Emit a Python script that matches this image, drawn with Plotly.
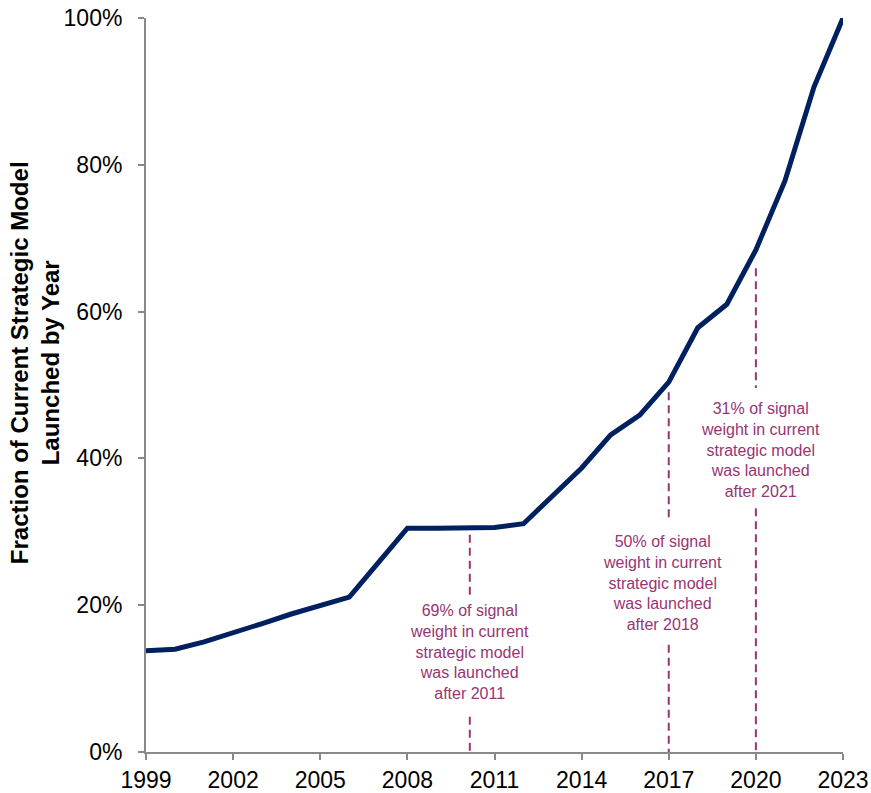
import plotly.graph_objects as go

years = list(range(1999, 2024))
fraction = [13.8, 14.0, 15.0, 16.2, 17.5, 18.8, 20.0, 21.1, 25.8, 30.5, 30.5, 30.5, 30.6, 31.1,
            34.9, 38.7, 43.2, 45.9, 50.4, 57.8, 61.0, 68.4, 77.8, 90.6, 100.0]

x_ticks = [1999, 2002, 2005, 2008, 2011, 2014, 2017, 2020, 2023]
y_ticks = [0, 20, 40, 60, 80, 100]
y_tick_labels = ["0%", "20%", "40%", "60%", "80%", "100%"]

ref_x = [2010.15, 2017.0, 2020.0]
ref_upper = [(29.6, 21.3), (49.0, 31.3), (65.9, 49.6)]
ref_lower = [(4.8, 0.0), (14.6, 0.0), (33.2, 0.0)]
note_x = [2010.15, 2016.8, 2020.15]
note_y = [13.6, 23.0, 41.1]
notes = [
    "69% of signal<br>weight in current<br>strategic model<br>was launched<br>after 2011",
    "50% of signal<br>weight in current<br>strategic model<br>was launched<br>after 2018",
    "31% of signal<br>weight in current<br>strategic model<br>was launched<br>after 2021",
]

NOTE_COLOR = "#983572"
AXIS_COLOR = "#898989"
FONT = "Liberation Sans, Arial, sans-serif"

fig = go.Figure()

for xv, up, lo in zip(ref_x, ref_upper, ref_lower):
    for seg in (up, lo):
        fig.add_trace(go.Scatter(x=[xv, xv], y=list(seg), mode="lines",
                                 line=dict(color=NOTE_COLOR, width=2, dash="8px,5px"),
                                 showlegend=False, hoverinfo="skip"))

fig.add_trace(go.Scatter(x=years, y=fraction, mode="lines",
                         line=dict(color="#002060", width=5),
                         showlegend=False))

for xv, yv, t in zip(note_x, note_y, notes):
    fig.add_annotation(x=xv, y=yv, xref="x", yref="y", text=t, showarrow=False,
                       font=dict(family=FONT, size=16, color=NOTE_COLOR),
                       align="center")

fig.add_annotation(x=-0.159, y=0.53, xref="paper", yref="paper",
                   xanchor="center", yanchor="middle",
                   text="<b>Fraction of Current Strategic Model<br>Launched by Year</b>",
                   showarrow=False, textangle=-90,
                   font=dict(family=FONT, size=24, color="#000000"), align="center")

fig.update_layout(
    width=871, height=793,
    margin=dict(l=146, r=28, t=18, b=41, autoexpand=False),
    paper_bgcolor="white", plot_bgcolor="white",
    font=dict(family=FONT, size=23, color="#000000"),
    xaxis=dict(range=[1999, 2023], tickvals=x_ticks, showgrid=False, zeroline=False,
               showline=True, linecolor=AXIS_COLOR, linewidth=2, automargin=False,
               ticks="outside", ticklen=6, tickcolor=AXIS_COLOR, tickwidth=2,
               tickfont=dict(family=FONT, size=23, color="#000000")),
    yaxis=dict(range=[0, 100], tickvals=y_ticks, ticktext=y_tick_labels, showgrid=False,
               zeroline=False, showline=True, linecolor=AXIS_COLOR, linewidth=2,
               automargin=False,
               ticks="outside", ticklen=6, tickcolor=AXIS_COLOR, tickwidth=2,
               ticklabelstandoff=11,
               tickfont=dict(family=FONT, size=23, color="#000000")),
)

fig.write_html("out.html")
